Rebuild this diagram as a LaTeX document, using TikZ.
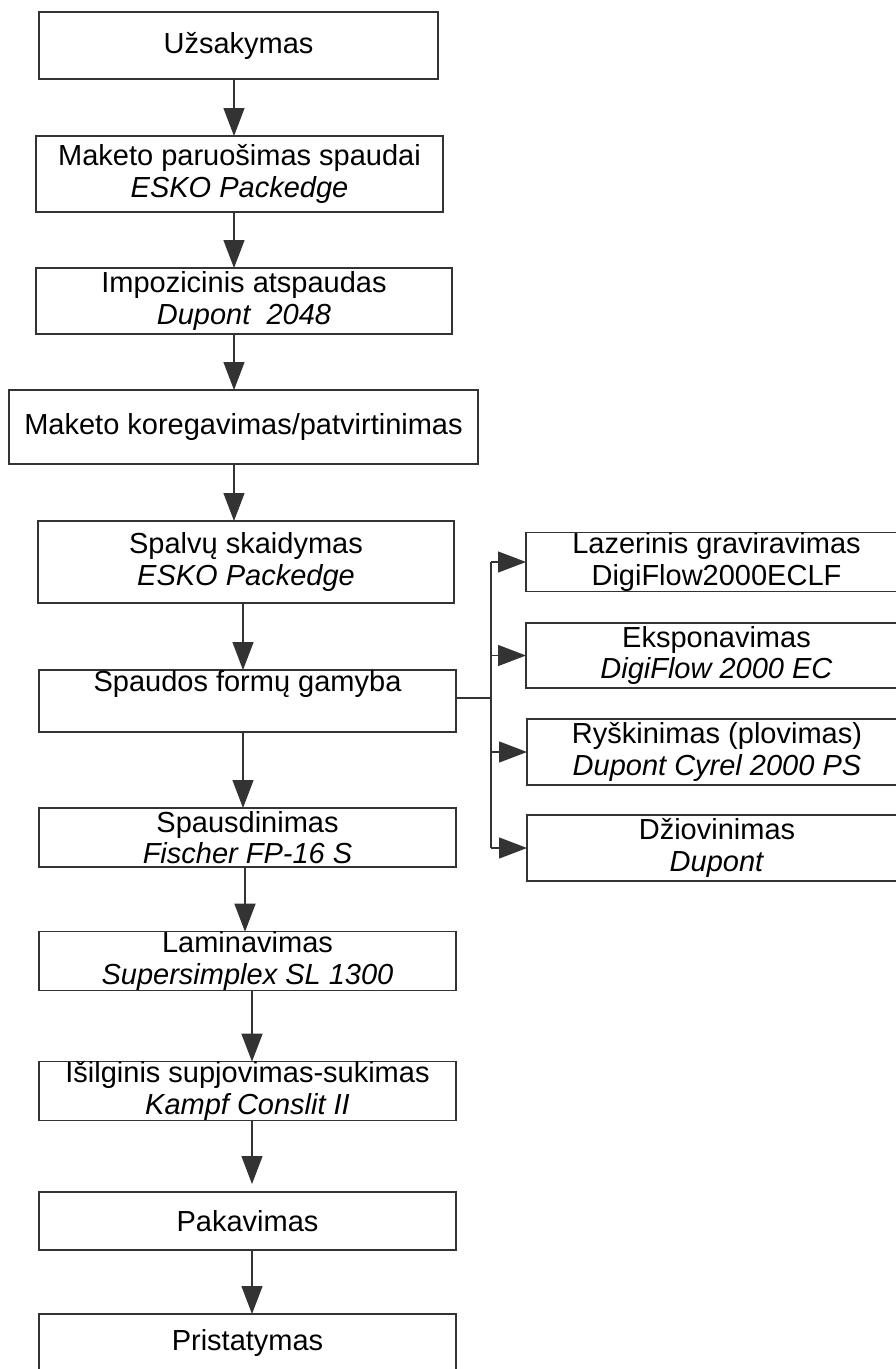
\documentclass[tikz,border=0pt]{standalone}
\usepackage{fontspec}
\setmainfont{Liberation Sans}
\usetikzlibrary{arrows.meta}
\definecolor{lc}{gray}{0.2}
\begin{document}
\begin{tikzpicture}[x=1pt,y=-1pt,
  box/.style={draw=lc, line width=1.3pt, inner sep=0pt, outer sep=0pt, align=center,
              font=\fontsize{29}{31.5}\selectfont},
  arr/.style={draw=lc, line width=1.3pt, -{Triangle[length=28pt,width=21pt]}},
  ln/.style={draw=lc, line width=1.3pt}]
\useasboundingbox (0,0) rectangle (896,1369);
\clip (0,0) rectangle (896,1369);
\fill[white] (0,0) rectangle (896,1369);

% main column
\node[box, minimum width=399pt, minimum height=67pt] (b1) at (238.5,45.5) {Užsakymas};
\node[box, minimum width=407pt, minimum height=76pt] (b2) at (239.5,174) {Maketo paruošimas spaudai\\\textit{ESKO Packedge}};
\node[box, minimum width=416pt, minimum height=66pt] (b3) at (244,301) {Impozicinis atspaudas\\\textit{Dupont\ \ 2048}};
\node[box, minimum width=469pt, minimum height=74pt] (b4) at (243.5,427) {Maketo koregavimas/patvirtinimas};
\node[box, minimum width=416pt, minimum height=82pt] (b5) at (246,562) {Spalvų skaidymas\\\textit{ESKO Packedge}};
\node[box, minimum width=417pt, minimum height=58pt] (b6) at (247.5,701) {Spaudos formų gamyba\\\strut};
\node[box, minimum width=417pt, minimum height=59pt] (b7) at (247.5,837.5) {Spausdinimas\\\textit{Fischer FP-16 S}};
\node[box, minimum width=417pt, minimum height=58pt] (b8) at (247.5,961) {Laminavimas\\\textit{Supersimplex SL 1300}};
\node[box, minimum width=417pt, minimum height=58pt] (b9) at (247.5,1091) {Išilginis supjovimas-sukimas\\\textit{Kampf Conslit II}};
\node[box, minimum width=417pt, minimum height=58pt] (b10) at (247.5,1221) {Pakavimas};
\node[box, minimum width=417pt, minimum height=58pt] (b11) at (247.5,1343) {Pristatymas};

% right column
\node[box, minimum width=381pt, minimum height=58pt] (ra) at (716.5,562) {Lazerinis graviravimas\\DigiFlow2000ECLF};
\node[box, minimum width=381pt, minimum height=65pt] (rb) at (716.5,655.5) {Eksponavimas\\\textit{DigiFlow 2000 EC}};
\node[box, minimum width=380pt, minimum height=66pt] (rc) at (717,752) {Ryškinimas (plovimas)\\\textit{Dupont Cyrel 2000 PS}};
\node[box, minimum width=380pt, minimum height=66pt] (rd) at (717,848) {Džiovinimas\\\textit{Dupont}};

% arrow x-positions
\coordinate (xa) at (234,0);
\coordinate (xb) at (243,0);
\coordinate (xc) at (245,0);
\coordinate (xd) at (252,0);
\coordinate (br) at (491,698);

\draw[arr] (b1.south -| xa) -- (b2.north -| xa);
\draw[arr] (b2.south -| xa) -- (b3.north -| xa);
\draw[arr] (b3.south -| xa) -- (b4.north -| xa);
\draw[arr] (b4.south -| xa) -- (b5.north -| xa);
\draw[arr] (b5.south -| xb) -- (b6.north -| xb);
\draw[arr] (b6.south -| xb) -- (b7.north -| xb);
\draw[arr] (b7.south -| xc) -- (b8.north -| xc);
\draw[arr] (b8.south -| xd) -- (b9.north -| xd);
\draw[arr, shorten >=8pt] (b9.south -| xd) -- (b10.north -| xd);
\draw[arr] (b10.south -| xd) -- (b11.north -| xd);

% branch
\draw[ln] (b6.east |- br) -- (br);
\draw[ln] (br |- ra.west) -- (br |- rd.west);
\foreach \n in {ra,rb,rc,rd}
  \draw[arr] (br |- \n.west) -- (\n.west);
\end{tikzpicture}
\end{document}
